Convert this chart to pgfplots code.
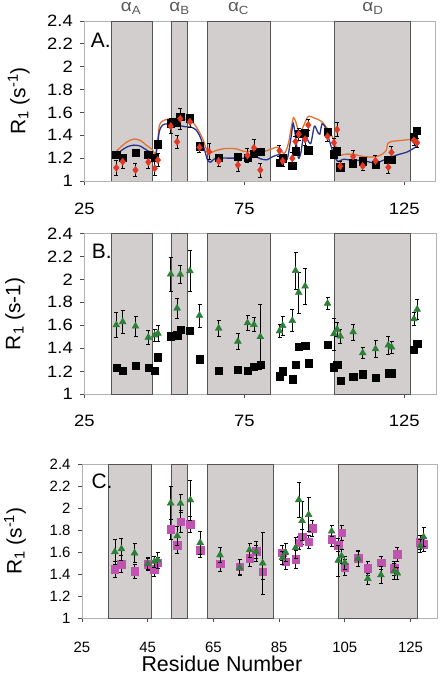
\documentclass[border=0pt]{standalone}
\usepackage{fontspec}
\setmainfont{Liberation Sans}
\newfontfamily\widefont[FakeStretch=1.12]{Liberation Sans}
\usepackage{pgfplots}
\usepackage{pgfplotstable}
\pgfplotsset{compat=1.18}
\definecolor{shade}{RGB}{210,206,205}
\definecolor{shadeedge}{RGB}{85,85,85}
\definecolor{redpt}{RGB}{226,56,36}
\definecolor{greenpt}{RGB}{46,128,56}
\definecolor{magpt}{RGB}{192,82,176}
\definecolor{orangeln}{RGB}{228,112,52}
\definecolor{blueln}{RGB}{42,52,140}

\pgfplotstableread{
x y
35 1.231
37 1.203
41 1.249
45 1.231
47 1.203
48 1.322
52 1.505
54 1.514
55 1.565
58 1.550
61 1.305
67 1.205
73 1.211
76 1.205
78 1.237
80 1.255
86 1.157
87 1.200
90 1.132
91 1.260
92 1.414
94 1.420
95 1.270
101 1.428
103 1.235
104 1.260
105 1.120
109 1.155
112 1.174
116 1.146
120 1.183
121 1.183
128 1.385
129 1.438
}\blacksq

\pgfplotstableread{
x y e
35 1.116 0.065
37 1.169 0.058
41 1.096 0.055
45 1.165 0.050
47 1.111 0.062
48 1.183 0.055
52 1.480 0.065
54 1.343 0.055
55 1.545 0.090
58 1.518 0.045
61 1.294 0.047
64 1.256 0.070
67 1.175 0.050
73 1.140 0.058
76 1.224 0.058
78 1.290 0.075
80 1.096 0.060
86 1.265 0.046
87 1.175 0.050
90 1.198 0.050
91 1.345 0.050
92 1.410 0.050
94 1.365 0.050
95 1.490 0.050
101 1.390 0.040
103 1.335 0.040
104 1.450 0.060
105 1.130 0.040
109 1.215 0.050
112 1.131 0.040
116 1.177 0.050
120 1.120 0.050
121 1.250 0.050
128 1.355 0.040
129 1.335 0.040
}\reddia

\pgfplotstableread{
x y e
35 1.603 0.110
37 1.630 0.100
41 1.592 0.087
45 1.495 0.058
47 1.515 0.050
48 1.530 0.072
52 2.045 0.150
54 1.748 0.090
55 2.042 0.080
58 2.073 0.180
61 1.685 0.100
67 1.574 0.070
73 1.460 0.072
76 1.620 0.065
78 1.606 0.060
80 1.500 0.280
86 1.550 0.058
87 1.597 0.083
90 1.640 0.096
91 2.075 0.160
92 1.885 0.177
94 1.940 0.155
101 1.790 0.050
103 1.525 0.140
104 1.565 0.065
105 1.505 0.058
109 1.542 0.070
112 1.360 0.050
116 1.394 0.075
120 1.427 0.075
121 1.410 0.055
128 1.655 0.058
129 1.738 0.087
}\greentri

\pgfplotstableread{
x y e
35 1.445 0.076
37 1.493 0.076
41 1.430 0.063
45 1.493 0.050
47 1.445 0.060
48 1.505 0.050
52 1.807 0.090
54 1.665 0.074
55 1.877 0.100
58 1.853 0.070
61 1.620 0.068
67 1.495 0.068
73 1.468 0.065
76 1.545 0.070
78 1.611 0.090
80 1.423 0.070
86 1.595 0.070
87 1.514 0.070
90 1.535 0.080
91 1.686 0.060
92 1.740 0.065
94 1.695 0.060
95 1.817 0.070
101 1.717 0.060
103 1.665 0.060
104 1.777 0.070
105 1.463 0.070
109 1.544 0.070
112 1.454 0.060
116 1.505 0.060
120 1.454 0.060
121 1.581 0.060
128 1.690 0.060
129 1.670 0.060
}\magsq

\pgfplotsset{
  panel/.style={
    scale only axis, anchor=south west,
    ymin=1, ymax=2.4,
    ytick={1,1.2,1.4,1.6,1.8,2,2.2,2.4},
    yticklabels={1,1.2,1.4,1.6,1.8,2,2.2,2.4},
    axis x line*=bottom, axis y line*=left,
    axis line style={black!70, line width=0.8pt},
    tick align=outside, major tick length=4bp,
    tick style={black!70, line width=0.8pt},
    /pgf/number format/assume math mode=true,
    yticklabel style={xshift=-4bp},
    xticklabels={},
    clip mode=individual,
  },
  ticksAB/.style={
    xtick={25,75,125},
    tick label style={font=\widefont\fontsize{16.5}{16.5}\selectfont},
  },
  bands/.style={fill=shade, draw=shadeedge, line width=0.7pt},
  sq/.style={only marks, mark=square*, mark size=3.6bp, mark options={fill=black, draw=black}},
  ebar/.style={error bars/.cd, y dir=both, y explicit,
     error bar style={black, line width=0.6pt},
     error mark options={rotate=90, mark size=2bp, black, line width=0.6pt}},
}
\tikzset{
  greek/.style={anchor=base, font=\widefont\fontsize{17}{17}\selectfont, text=black!65, yshift=9bp},
  xtlAB/.style={anchor=base, inner sep=0pt, font=\widefont\fontsize{16.5}{16.5}\selectfont},
  xtlC/.style={anchor=base, inner sep=0pt, font=\fontsize{15}{15}\selectfont, yshift=-34bp},
}

\begin{document}
\begin{tikzpicture}
\useasboundingbox (0bp,0bp) rectangle (444bp,675bp);

% ---------------- Panel A
\begin{axis}[panel, ticksAB, at={(84.3bp,494bp)}, width=350.7bp, height=160bp,
  xmin=25, xmax=134.6,
  ylabel={R\textsubscript{1} (s\textsuperscript{-1})},
  ylabel style={at={(axis description cs:-0.187,0.5)}, anchor=center, font=\fontsize{21}{21}\selectfont}]
\draw[black!30, line width=0.6pt] (rel axis cs:0,0) rectangle (rel axis cs:1,1);
\addplot[bands] coordinates {(33.3,1) (33.3,2.4) (46.3,2.4) (46.3,1)} -- cycle;
\addplot[bands] coordinates {(52.2,1) (52.2,2.4) (57.3,2.4) (57.3,1)} -- cycle;
\addplot[bands] coordinates {(63.3,1) (63.3,2.4) (83.2,2.4) (83.2,1)} -- cycle;
\addplot[bands] coordinates {(103.1,1) (103.1,2.4) (127,2.4) (127,1)} -- cycle;
\addplot[orangeln, line width=1.3pt, smooth, tension=0.45] coordinates {
(35,1.26)(36.5,1.30)(38.5,1.345)(40.5,1.367)(42.5,1.355)(44.5,1.31)(46.3,1.275)(47.2,1.235)(47.8,1.33)(48.5,1.49)(49.5,1.525)(51,1.54)(53,1.545)(55.5,1.545)(57.5,1.535)(59,1.51)(60.5,1.45)(62,1.37)(63.3,1.27)(64.3,1.245)(66,1.265)(68.5,1.282)(71,1.285)(73,1.278)(75,1.258)(77,1.262)(79,1.27)(81,1.258)(83,1.275)(85.5,1.295)(87.5,1.24)(88.8,1.33)(89.7,1.47)(90.4,1.555)(91.3,1.5)(92,1.42)(92.8,1.44)(93.8,1.5)(95,1.565)(97,1.55)(99.2,1.52)(101.2,1.45)(102.8,1.37)(104,1.27)(104.8,1.228)(107,1.235)(109.5,1.232)(112,1.215)(115,1.21)(117.5,1.225)(119.3,1.265)(119.8,1.325)(121,1.345)(124,1.355)(127,1.365)(129,1.38)};
\addplot[blueln, line width=1.3pt, smooth, tension=0.45] coordinates {
(35,1.23)(36.5,1.265)(38.5,1.3)(40.5,1.314)(42.5,1.305)(44.5,1.27)(46.3,1.24)(47.2,1.21)(47.8,1.3)(48.5,1.44)(49.5,1.49)(51,1.5)(54,1.49)(56.5,1.475)(58.5,1.47)(60,1.445)(61.3,1.38)(62.5,1.28)(63.5,1.185)(64.5,1.165)(66,1.2)(70,1.2)(74,1.2)(76.5,1.2)(78,1.22)(80,1.195)(82,1.185)(84,1.215)(86.3,1.23)(88.3,1.185)(89.6,1.38)(90.3,1.505)(91.2,1.35)(91.9,1.2)(92.7,1.25)(93.8,1.44)(94.8,1.36)(95.8,1.33)(96.9,1.48)(97.9,1.43)(98.6,1.41)(99.3,1.5)(100.3,1.47)(101.3,1.38)(102.5,1.27)(103.5,1.2)(104.3,1.17)(106,1.19)(109,1.18)(112,1.18)(115,1.16)(117,1.165)(120,1.2)(123,1.23)(126,1.255)(129,1.305)};
\addplot[sq] table[x=x,y=y] {\blacksq};
\addplot[only marks, mark=diamond*, mark size=3.7bp, mark options={fill=redpt, draw=redpt}, ebar] table[x=x,y=y,y error=e] {\reddia};
\node[anchor=base west, font=\fontsize{21}{21}\selectfont, xshift=3bp, yshift=-27bp] at (rel axis cs:0,1) {A.};
\node[greek] at (axis cs:39.6,2.4) {α\textsubscript{A}};
\node[greek] at (axis cs:54.8,2.4) {α\textsubscript{B}};
\node[greek] at (axis cs:73.2,2.4) {α\textsubscript{C}};
\node[greek] at (axis cs:115.2,2.4) {α\textsubscript{D}};
\node[xtlAB, yshift=-34bp] at (axis cs:25,1) {25};
\node[xtlAB, yshift=-34bp] at (axis cs:75,1) {75};
\node[xtlAB, yshift=-34bp] at (axis cs:125,1) {125};
\end{axis}

% ---------------- Panel B
\begin{axis}[panel, ticksAB, at={(84.3bp,280.7bp)}, width=351.7bp, height=161bp,
  xmin=25, xmax=134.9,
  ylabel={R\textsubscript{1} (s-1)},
  ylabel style={at={(axis description cs:-0.197,0.5)}, anchor=center, font=\fontsize{21}{21}\selectfont}]
\draw[black!30, line width=0.6pt] (rel axis cs:0,0) rectangle (rel axis cs:1,1);
\addplot[bands] coordinates {(33.3,1) (33.3,2.4) (46.3,2.4) (46.3,1)} -- cycle;
\addplot[bands] coordinates {(52.2,1) (52.2,2.4) (57.3,2.4) (57.3,1)} -- cycle;
\addplot[bands] coordinates {(63.3,1) (63.3,2.4) (83.2,2.4) (83.2,1)} -- cycle;
\addplot[bands] coordinates {(103.1,1) (103.1,2.4) (127,2.4) (127,1)} -- cycle;
\addplot[sq] table[x=x,y=y] {\blacksq};
\addplot[only marks, mark=triangle*, mark size=4bp, mark options={fill=greenpt, draw=greenpt}, ebar] table[x=x,y=y,y error=e] {\greentri};
\node[anchor=base west, font=\fontsize{21}{21}\selectfont, xshift=4bp, yshift=-25bp] at (rel axis cs:0,1) {B.};
\node[xtlAB, yshift=-32bp] at (axis cs:25,1) {25};
\node[xtlAB, yshift=-32bp] at (axis cs:75,1) {75};
\node[xtlAB, yshift=-32bp] at (axis cs:125,1) {125};
\end{axis}

% ---------------- Panel C
\begin{axis}[panel, at={(82bp,56.7bp)}, width=355bp, height=154.3bp,
  xmin=25, xmax=133.07,
  xtick={25,45,65,85,105,125},
  tick label style={font=\fontsize{15}{15}\selectfont},
  ylabel={R\textsubscript{1} (s\textsuperscript{-1})},
  ylabel style={at={(axis description cs:-0.189,0.5)}, anchor=center, font=\fontsize{21}{21}\selectfont}]
\draw[black!30, line width=0.6pt] (rel axis cs:0,0) rectangle (rel axis cs:1,1);
\addplot[bands] coordinates {(33,1) (33,2.4) (46.2,2.4) (46.2,1)} -- cycle;
\addplot[bands] coordinates {(52.1,1) (52.1,2.4) (57.1,2.4) (57.1,1)} -- cycle;
\addplot[bands] coordinates {(63.1,1) (63.1,2.4) (83.2,2.4) (83.2,1)} -- cycle;
\addplot[bands] coordinates {(103,1) (103,2.4) (127.1,2.4) (127.1,1)} -- cycle;
\addplot[only marks, mark=square*, mark size=3.8bp, mark options={fill=magpt, draw=magpt}, ebar] table[x=x,y=y,y error=e] {\magsq};
\addplot[only marks, mark=triangle*, mark size=4bp, mark options={fill=greenpt, draw=greenpt}, ebar] table[x=x,y=y,y error=e] {\greentri};
\node[anchor=base west, font=\fontsize{21}{21}\selectfont, xshift=6bp, yshift=-24bp] at (rel axis cs:0,1) {C.};
\node[xtlC] at (axis cs:25,1) {25};
\node[xtlC] at (axis cs:45,1) {45};
\node[xtlC] at (axis cs:65,1) {65};
\node[xtlC] at (axis cs:85,1) {85};
\node[xtlC] at (axis cs:105,1) {105};
\node[xtlC] at (axis cs:125,1) {125};
\node[anchor=base, inner sep=0pt, font=\fontsize{21.5}{21.5}\selectfont, yshift=-53.5bp] at (rel axis cs:0.394,0) {Residue Number};
\end{axis}
\end{tikzpicture}
\end{document}
